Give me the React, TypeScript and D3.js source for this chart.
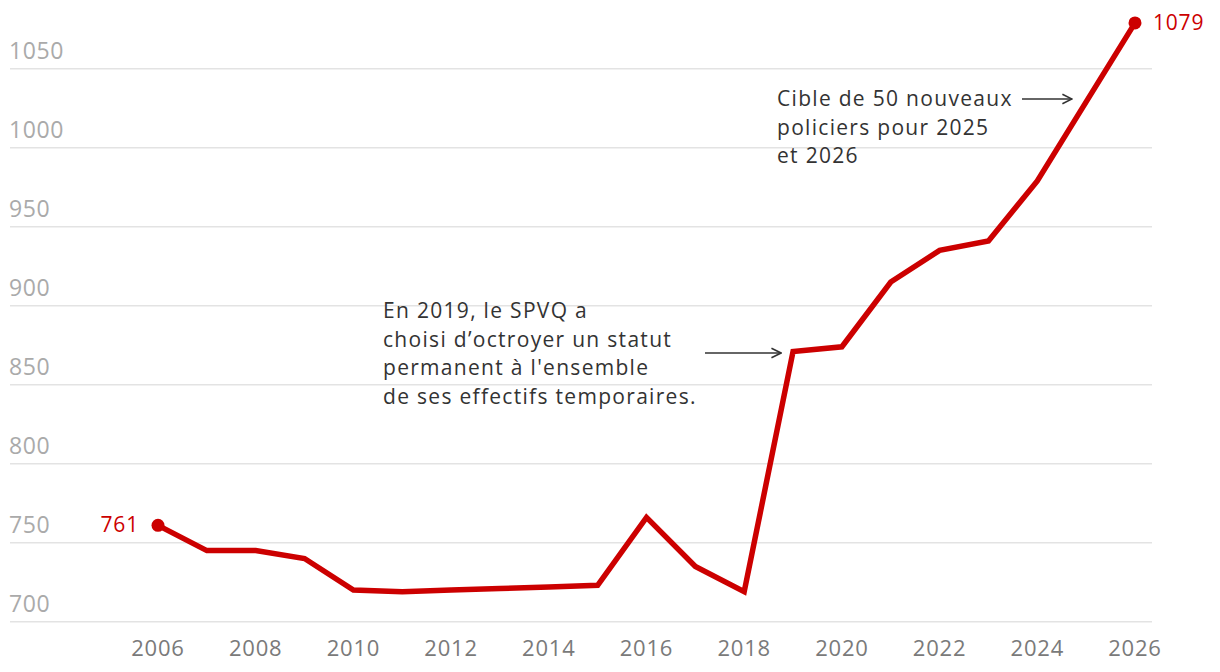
import React, { useEffect, useRef } from "react";
import * as d3 from "d3";

const years = [2006, 2007, 2008, 2009, 2010, 2011, 2012, 2013, 2014, 2015, 2016, 2017, 2018, 2019, 2020, 2021, 2022, 2023, 2024, 2025, 2026];
const officers = [761, 745, 745, 740, 720, 719, 720, 721, 722, 723, 766, 735, 719, 871, 874, 915, 935, 941, 979, 1029, 1079];
const yTicks = [700, 750, 800, 850, 900, 950, 1000, 1050];
const xTicks = [2006, 2008, 2010, 2012, 2014, 2016, 2018, 2020, 2022, 2024, 2026];

const noteSpvq = ["En 2019, le SPVQ a", "choisi d\u2019octroyer un statut", "permanent à l'ensemble", "de ses effectifs temporaires."];
const noteTarget = ["Cible de 50 nouveaux", "policiers pour 2025", "et 2026"];

const RED = "#cc0000";
const FONT = "'Open Sans', sans-serif";

const PoliceChart: React.FC = () => {
  const svgRef = useRef<SVGSVGElement | null>(null);

  useEffect(() => {
    if (!svgRef.current) return;
    const width = 1220;
    const height = 672;

    const svg = d3.select(svgRef.current);
    svg.selectAll("*").remove();
    svg.attr("width", width).attr("height", height);

    const x = d3.scaleLinear().domain([2006, 2026]).range([158, 1135]);
    const y = d3.scaleLinear().domain([700, 1050]).range([621.7, 68.7]);

    // arrow marker
    svg.append("defs")
      .append("marker")
      .attr("id", "arr")
      .attr("viewBox", "0 0 10 10")
      .attr("refX", 9)
      .attr("refY", 5)
      .attr("markerWidth", 12)
      .attr("markerHeight", 12)
      .attr("markerUnits", "userSpaceOnUse")
      .attr("orient", "auto")
      .append("path")
      .attr("d", "M1,1 L9,5 L1,9")
      .attr("fill", "none")
      .attr("stroke", "#333")
      .attr("stroke-width", 1.3);

    // gridlines + y labels
    const grid = svg.append("g");
    grid.selectAll("line")
      .data(yTicks)
      .enter()
      .append("line")
      .attr("x1", 10)
      .attr("x2", 1152)
      .attr("y1", d => y(d))
      .attr("y2", d => y(d))
      .attr("stroke", "#e3e3e3")
      .attr("stroke-width", 1.5);
    grid.selectAll("text")
      .data(yTicks)
      .enter()
      .append("text")
      .attr("x", 9)
      .attr("y", d => y(d) - 10)
      .attr("fill", "#aaaaaa")
      .attr("font-size", 23)
      .attr("letter-spacing", 0.6)
      .attr("font-family", FONT)
      .text(d => d);

    // x labels
    svg.append("g")
      .selectAll("text")
      .data(xTicks)
      .enter()
      .append("text")
      .attr("x", d => x(d))
      .attr("y", 656)
      .attr("text-anchor", "middle")
      .attr("fill", "#7a7a7a")
      .attr("font-size", 22)
      .attr("letter-spacing", 0.8)
      .attr("font-family", FONT)
      .text(d => d);

    // line
    const pts = years.map((yr, i) => [yr, officers[i]] as [number, number]);
    const line = d3.line<[number, number]>()
      .x(d => x(d[0]))
      .y(d => y(d[1]));
    svg.append("path")
      .datum(pts)
      .attr("d", line)
      .attr("fill", "none")
      .attr("stroke", RED)
      .attr("stroke-width", 5.5)
      .attr("stroke-linejoin", "miter");

    const first = pts[0];
    const last = pts[pts.length - 1];
    [first, last].forEach(p => {
      svg.append("circle")
        .attr("cx", x(p[0]))
        .attr("cy", y(p[1]))
        .attr("r", 6.5)
        .attr("fill", RED);
    });
    svg.append("text")
      .attr("x", x(first[0]) - 19)
      .attr("y", y(first[1]) + 7)
      .attr("text-anchor", "end")
      .attr("fill", RED)
      .attr("font-size", 21)
      .attr("letter-spacing", 0.8)
      .attr("font-family", FONT)
      .text(first[1]);
    svg.append("text")
      .attr("x", x(last[0]) + 18)
      .attr("y", y(last[1]) + 7)
      .attr("fill", RED)
      .attr("font-size", 21)
      .attr("letter-spacing", 0.8)
      .attr("font-family", FONT)
      .text(last[1]);

    // annotations
    const note = (lines: string[], tx: number, ty: number) => {
      const t = svg.append("text")
        .attr("fill", "#333")
        .attr("font-size", 21)
        .attr("letter-spacing", 1.3)
        .attr("font-family", FONT);
      lines.forEach((l, i) => {
        t.append("tspan").attr("x", tx).attr("y", ty + i * 28.5).text(l);
      });
    };
    note(noteSpvq, 383, 318);
    note(noteTarget, 777, 106);

    svg.append("line")
      .attr("x1", 705).attr("x2", x(2019) - 12)
      .attr("y1", 353).attr("y2", 353)
      .attr("stroke", "#333").attr("stroke-width", 1.5)
      .attr("marker-end", "url(#arr)");
    svg.append("line")
      .attr("x1", 1022).attr("x2", 1072)
      .attr("y1", 99).attr("y2", 99)
      .attr("stroke", "#333").attr("stroke-width", 1.5)
      .attr("marker-end", "url(#arr)");
  }, []);

  return (
    <div style={{ position: "absolute", left: 0, top: 0, background: "#fff" }}>
      <svg ref={svgRef} style={{ display: "block" }}></svg>
    </div>
  );
};

export default function App() {
  return <PoliceChart />;
}
